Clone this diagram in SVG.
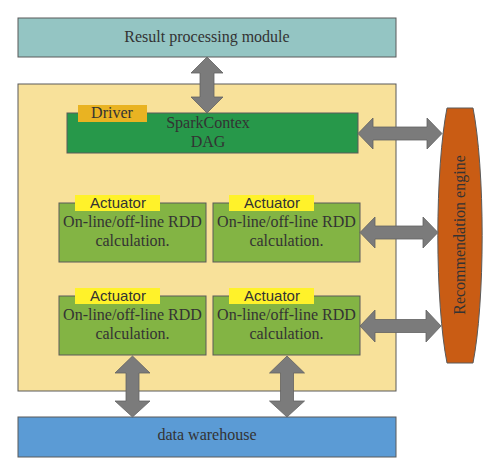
<svg xmlns="http://www.w3.org/2000/svg" width="500" height="475" viewBox="0 0 500 475">
<style>
.box{stroke:#5a5a5a;stroke-width:1}
.serif{font-family:"Liberation Serif","Times New Roman",serif;font-size:16px;fill:#333;text-anchor:middle}
.sans{font-family:"Liberation Sans",Arial,sans-serif;font-size:15px;fill:#333;text-anchor:middle}
.arrow{fill:#7b7b7b;stroke:#626262;stroke-width:0.8}
.calc{fill:#83b444}
.act{fill:#fff22a}
</style>
<rect width="500" height="475" fill="#ffffff"/>
<g id="result-processing-module">
<rect class="box" x="18" y="18" width="378" height="39" fill="#94c5c3"/>
<text class="serif" x="207" y="42">Result processing module</text>
</g>
<g id="cluster">
<rect class="box" x="18" y="84" width="378" height="307" fill="#f8e19a"/>
</g>
<g id="data-warehouse">
<rect class="box" x="18" y="417" width="378" height="40" fill="#5b9bd5"/>
<text class="serif" x="207" y="440">data warehouse</text>
</g>
<g id="sparkcontex">
<rect class="box" x="67" y="113" width="291" height="40" fill="#27984a"/>
<text class="serif" x="208" y="128">SparkContex</text>
<text class="serif" x="208" y="147">DAG</text>
</g>
<g id="driver">
<rect x="78" y="105" width="69" height="17" fill="#e9b322"/>
<text class="serif" x="112" y="118">Driver</text>
</g>
<g id="actuator-1">
<rect class="box calc" x="59" y="203" width="147" height="59"/>
<rect class="act" x="75" y="195" width="85" height="16"/>
<text class="sans" x="118" y="208">Actuator</text>
<text class="serif" x="132.5" y="227">On-line/off-line RDD</text>
<text class="serif" x="132.5" y="246">calculation.</text>
</g>
<g id="actuator-2">
<rect class="box calc" x="213" y="203" width="147" height="59"/>
<rect class="act" x="229" y="195" width="85" height="16"/>
<text class="sans" x="272" y="208">Actuator</text>
<text class="serif" x="286.5" y="227">On-line/off-line RDD</text>
<text class="serif" x="286.5" y="246">calculation.</text>
</g>
<g id="actuator-3">
<rect class="box calc" x="59" y="296" width="147" height="59"/>
<rect class="act" x="75" y="288" width="85" height="16"/>
<text class="sans" x="118" y="301">Actuator</text>
<text class="serif" x="132.5" y="320">On-line/off-line RDD</text>
<text class="serif" x="132.5" y="339">calculation.</text>
</g>
<g id="actuator-4">
<rect class="box calc" x="213" y="296" width="147" height="59"/>
<rect class="act" x="229" y="288" width="85" height="16"/>
<text class="sans" x="272" y="301">Actuator</text>
<text class="serif" x="286.5" y="320">On-line/off-line RDD</text>
<text class="serif" x="286.5" y="339">calculation.</text>
</g>
<g id="recommendation-engine">
<path d="M447 108 L473 108 A22 157 0 0 1 473 363 L447 363 A22 157 0 0 1 447 108 Z" fill="#c95c14" stroke="#5a5a5a" stroke-width="1"/>
<text class="serif" transform="translate(465,235) rotate(-90)" x="0" y="0">Recommendation engine</text>
</g>
<g id="connectors">
<polygon class="arrow" points="207,57 223,73 214,73 214,97 223,97 207,113 191,97 200,97 200,73 191,73"/>
<polygon class="arrow" points="358,133.5 373,118 373,127 427,127 427,118 442,133.5 427,149 427,140 373,140 373,149"/>
<polygon class="arrow" points="360,232.5 375,217 375,226 423,226 423,217 438,232.5 423,248 423,239 375,239 375,248"/>
<polygon class="arrow" points="360,326 375,310 375,319.5 426,319.5 426,310 441,326 426,342 426,332.5 375,332.5 375,342"/>
<polygon class="arrow" points="132.5,356 150,373 139,373 139,401 150,401 132.5,417 115,401 126,401 126,373 115,373"/>
<polygon class="arrow" points="287,356 304.5,373 293.5,373 293.5,401 304.5,401 287,417 269.5,401 280.5,401 280.5,373 269.5,373"/>
</g>
</svg>
